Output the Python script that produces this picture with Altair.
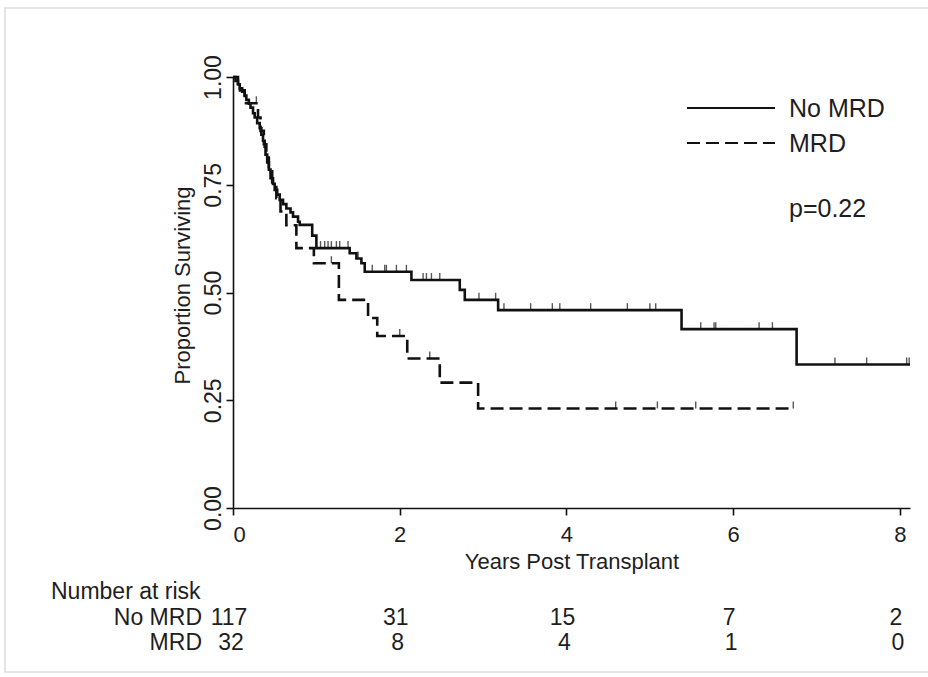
import altair as alt
import pandas as pd

# ---- data ----
groups = ["No MRD", "MRD"]

nomrd_t = [0, 0.03, 0.06, 0.08, 0.11, 0.14, 0.16, 0.19, 0.21, 0.24,
           0.26, 0.29, 0.32, 0.34, 0.36, 0.38, 0.39, 0.41, 0.43, 0.45,
           0.48, 0.50, 0.53, 0.56, 0.60, 0.64, 0.69, 0.72, 0.78, 0.80,
           0.95, 1.00, 1.40, 1.48, 1.54, 1.58, 2.14, 2.72, 2.78, 3.18,
           5.38, 6.76, 8.12]
nomrd_s = [1.0, 0.991, 0.983, 0.974, 0.966, 0.957, 0.947, 0.938, 0.929, 0.916,
           0.906, 0.893, 0.881, 0.866, 0.852, 0.838, 0.820, 0.802, 0.785, 0.765,
           0.752, 0.738, 0.727, 0.715, 0.705, 0.695, 0.686, 0.676, 0.664, 0.657,
           0.632, 0.603, 0.591, 0.579, 0.568, 0.548, 0.529, 0.506, 0.483, 0.459,
           0.415, 0.333, 0.333]

mrd_t = [0, 0.06, 0.14, 0.30, 0.33, 0.37, 0.40, 0.43, 0.47, 0.52,
         0.57, 0.64, 0.76, 0.97, 1.27, 1.62, 1.73, 2.09, 2.48, 2.94, 6.72]
mrd_s = [1.0, 0.969, 0.939, 0.906, 0.875, 0.844, 0.813, 0.781, 0.750, 0.719,
         0.688, 0.656, 0.603, 0.568, 0.483, 0.441, 0.399, 0.347, 0.291, 0.231, 0.231]

cens_nomrd_t = [1.05, 1.10, 1.14, 1.18, 1.24, 1.28, 1.38, 1.50, 1.67, 1.82,
                1.84, 1.96, 2.08, 2.28, 2.32, 2.38, 2.48, 2.95, 3.15, 3.25,
                3.57, 3.83, 3.92, 4.29, 4.73, 5.00, 5.07, 5.61, 5.77, 5.79,
                6.31, 6.47, 7.22, 7.60, 8.08, 8.11]
cens_nomrd_s = [0.603, 0.603, 0.603, 0.603, 0.603, 0.603, 0.603, 0.579, 0.548, 0.548,
                0.548, 0.548, 0.548, 0.529, 0.529, 0.529, 0.529, 0.483, 0.483, 0.459,
                0.459, 0.459, 0.459, 0.459, 0.459, 0.459, 0.459, 0.415, 0.415, 0.415,
                0.415, 0.415, 0.333, 0.333, 0.333, 0.333]

cens_mrd_t = [0.28, 1.18, 2.00, 2.36, 4.59, 5.09, 5.55, 6.72]
cens_mrd_s = [0.939, 0.568, 0.399, 0.347, 0.231, 0.231, 0.231, 0.231]

risk_years = [0, 2, 4, 6, 8]
risk_nomrd = [117, 31, 15, 7, 2]
risk_mrd = [32, 8, 4, 1, 0]

x_ticks = [0, 2, 4, 6, 8]
y_ticks = [0, 0.25, 0.5, 0.75, 1.0]
p_text = "p=0.22"

# ---- tables ----
curves = pd.concat([
    pd.DataFrame({"t": nomrd_t, "s": nomrd_s, "group": groups[0]}),
    pd.DataFrame({"t": mrd_t, "s": mrd_s, "group": groups[1]}),
])
cens = pd.concat([
    pd.DataFrame({"t": cens_nomrd_t, "s": cens_nomrd_s, "group": groups[0]}),
    pd.DataFrame({"t": cens_mrd_t, "s": cens_mrd_s, "group": groups[1]}),
])
risk_a = pd.DataFrame({"t": risk_years, "n": risk_nomrd})
risk_b = pd.DataFrame({"t": risk_years, "n": risk_mrd})

FONT = "Liberation Sans"
INK = "#111111"
TXT = "#1e1e1e"
W, H = 677, 431

xscale = alt.Scale(domain=[0, 8.12], nice=False, zero=False)
yscale = alt.Scale(domain=[0, 1], nice=False)
dash_scale = alt.Scale(domain=groups, range=[[1, 0], [13, 6]])

lines = alt.Chart(curves).mark_line(
    interpolate="step-after", strokeWidth=2.6, color=INK
).encode(
    x=alt.X("t:Q", scale=xscale,
            axis=alt.Axis(values=x_ticks, format="d", title="Years Post Transplant",
                          labelPadding=9, labelFontSize=22,
                          titleY=60, titleBaseline="alphabetic")),
    y=alt.Y("s:Q", scale=yscale,
            axis=alt.Axis(values=y_ticks, format=".2f", title="Proportion Surviving",
                          labelAngle=270, labelAlign="center", labelBaseline="alphabetic",
                          labelPadding=6, titleAngle=270, titleAlign="center",
                          titleBaseline="alphabetic", titleX=-44, titleY=208)),
    strokeDash=alt.StrokeDash("group:N", scale=dash_scale, legend=None),
    detail="group:N",
)

ticks = alt.Chart(cens).mark_tick(
    orient="vertical", size=7, thickness=1.4, color=INK, yOffset=-3.5
).encode(x=alt.X("t:Q", scale=xscale), y=alt.Y("s:Q", scale=yscale))

# legend (drawn by hand, as in the reference)
leg_solid = alt.Chart(pd.DataFrame({"g": [groups[0]]})).mark_rule(
    strokeWidth=2.2, color=INK
).encode(x=alt.value(454), x2=alt.value(542), y=alt.value(31))
leg_dash = alt.Chart(pd.DataFrame({"g": [groups[1]]})).mark_rule(
    strokeWidth=2.2, color=INK, strokeDash=[13, 6]
).encode(x=alt.value(454), x2=alt.value(542), y=alt.value(66))
leg_txt1 = alt.Chart(pd.DataFrame({"g": [groups[0]]})).mark_text(
    align="left", baseline="middle", font=FONT, fontSize=25, color=TXT
).encode(x=alt.value(556), y=alt.value(32), text="g:N")
leg_txt2 = alt.Chart(pd.DataFrame({"g": [groups[1]]})).mark_text(
    align="left", baseline="middle", font=FONT, fontSize=25, color=TXT
).encode(x=alt.value(556), y=alt.value(67), text="g:N")
p_lab = alt.Chart(pd.DataFrame({"p": [p_text]})).mark_text(
    align="left", baseline="middle", font=FONT, fontSize=25, color=TXT
).encode(x=alt.value(556), y=alt.value(132), text="p:N")

# number-at-risk table
nar_title = alt.Chart(pd.DataFrame({"l": ["Number at risk"]})).mark_text(
    align="left", baseline="middle", font=FONT, fontSize=23, color=TXT
).encode(x=alt.value(-182), y=alt.value(515), text="l:N")
row_a = alt.Chart(pd.DataFrame({"g": [groups[0]]})).mark_text(
    align="right", baseline="middle", font=FONT, fontSize=23, color=TXT
).encode(x=alt.value(-31), y=alt.value(541), text="g:N")
row_b = alt.Chart(pd.DataFrame({"g": [groups[1]]})).mark_text(
    align="right", baseline="middle", font=FONT, fontSize=23, color=TXT
).encode(x=alt.value(-31), y=alt.value(566), text="g:N")
num_a = alt.Chart(risk_a).mark_text(
    align="center", baseline="middle", font=FONT, fontSize=23, color=TXT, dx=-4
).encode(x=alt.X("t:Q", scale=xscale), y=alt.value(541), text="n:Q")
num_b = alt.Chart(risk_b).mark_text(
    align="center", baseline="middle", font=FONT, fontSize=23, color=TXT, dx=-2
).encode(x=alt.X("t:Q", scale=xscale), y=alt.value(566), text="n:Q")

frame = alt.Chart(pd.DataFrame({"f": [1]})).mark_rect(
    fill=None, stroke="#dcdcdc", strokeWidth=1.5
).encode(x=alt.value(-228), x2=alt.value(720), y=alt.value(-69), y2=alt.value(595))

chart = alt.layer(
    frame, lines, ticks, leg_solid, leg_dash, leg_txt1, leg_txt2, p_lab,
    nar_title, row_a, row_b, num_a, num_b
).properties(
    width=W, height=H,
    autosize=alt.AutoSizeParams(type="none"),
    padding={"left": 233, "top": 77, "right": 18, "bottom": 169},
    background="white",
).configure_view(stroke=None).configure_axis(
    grid=False, domainColor=INK, domainWidth=1.6, tickColor=INK, tickWidth=1.6,
    tickSize=7, labelFont=FONT, labelFontSize=23, labelColor=TXT,
    titleFont=FONT, titleFontSize=22, titleColor=TXT, titleFontWeight="normal",
)

chart.save("out.html", embed_options={"renderer": "svg", "actions": False})
